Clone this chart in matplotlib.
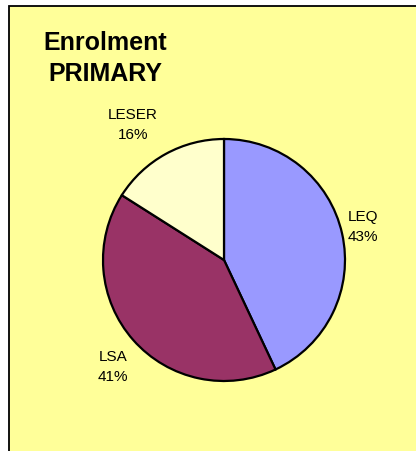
import numpy as np
from matplotlib import pyplot as plt
from matplotlib.patches import Rectangle

# enrolment shares, primary level
categories = ["LEQ", "LSA", "LESER"]
shares = [43, 41, 16]
colors = ["#9999FF", "#993366", "#FFFFCC"]
pct_labels = ["43%", "41%", "16%"]

# label placement (distance in radii, extra angle in degrees)
label_dist = [1.18, 1.27, 1.35]
label_shift = [1.1, 2.3, 5.1]

W, H = 416, 452
fig = plt.figure(figsize=(W / 100, H / 100), dpi=100)
fig.patch.set_facecolor("white")

# yellow chart area with border on left/top only visible
frame = Rectangle((9 / W, -0.1), 1.2, (H - 7) / H + 0.1,
                  transform=fig.transFigure, facecolor="#FFFF99",
                  edgecolor="black", linewidth=1.3, zorder=-10)
fig.patches.append(frame)

cx, cy, r = 224, 261, 121 * 1.02
ax = fig.add_axes([(cx - r) / W, (H - cy - r) / H, 2 * r / W, 2 * r / H])
ax.set_facecolor("none")
wedges, _ = ax.pie(shares, colors=colors, startangle=90, counterclock=False,
                   radius=1.0,
                   wedgeprops=dict(edgecolor="black", linewidth=1.6))
ax.set_xlim(-1.02, 1.02)
ax.set_ylim(-1.02, 1.02)
ax.set_aspect("equal")
ax.axis("off")

for w, name, pct, d, s in zip(wedges, categories, pct_labels, label_dist, label_shift):
    ang = np.deg2rad((w.theta1 + w.theta2) / 2 + s)
    ax.text(d * np.cos(ang), d * np.sin(ang), f"{name}\n{pct}",
            ha="center", va="center", fontsize=11, linespacing=1.55,
            family="Liberation Sans", clip_on=False)

fig.text(105 / W, 1 - 58.5 / H, "Enrolment\nPRIMARY", ha="center", va="center",
         fontsize=18, fontweight="bold", family="Liberation Sans",
         linespacing=1.36)

fig.savefig("out.png", dpi=100)
